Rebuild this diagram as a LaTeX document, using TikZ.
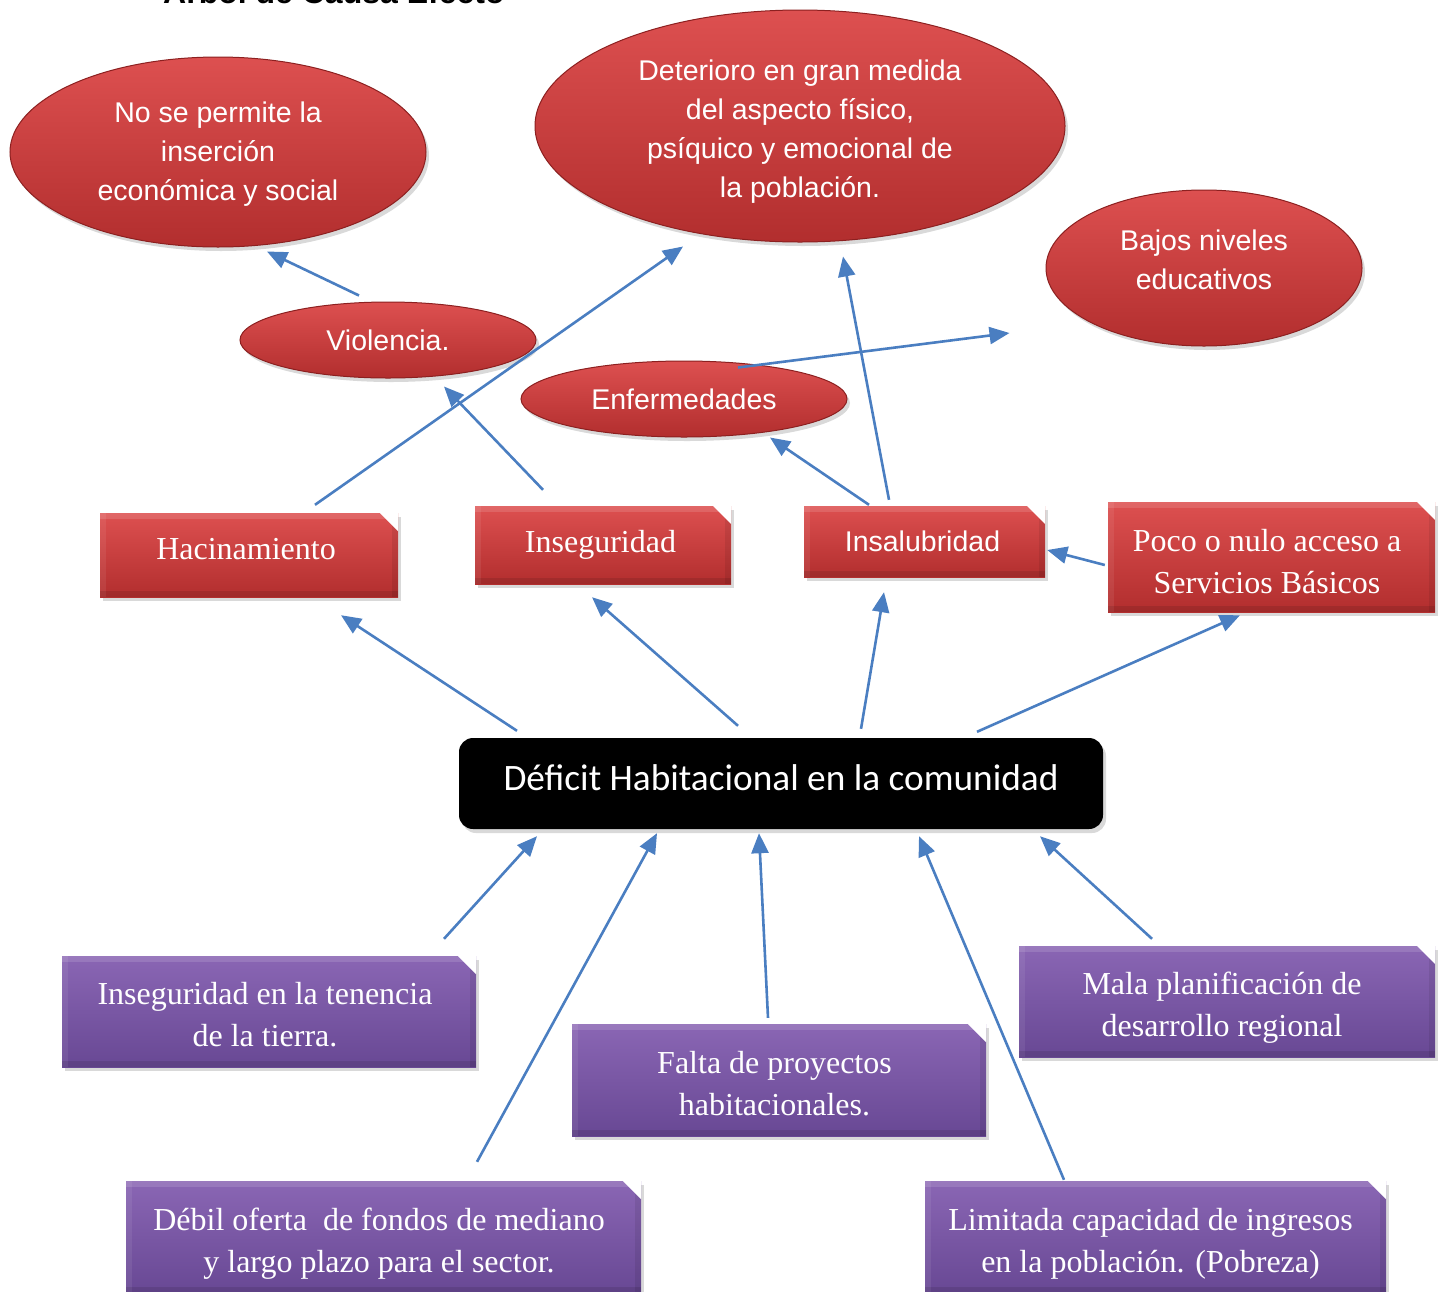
\documentclass[tikz,border=0pt]{standalone}
\usepackage{fontspec}
\setmainfont{Liberation Serif}
\newfontfamily\sansarial{Liberation Sans}
\newfontfamily\sanscalibri{Carlito}
\usetikzlibrary{shapes.geometric,shadows,arrows.meta,calc}

\definecolor{flow}{RGB}{74,126,193}
\definecolor{redtop}{RGB}{221,80,80}
\definecolor{redbot}{RGB}{178,46,46}
\definecolor{redrim}{RGB}{140,32,32}
\definecolor{purtop}{RGB}{138,102,180}
\definecolor{purbot}{RGB}{104,72,148}

\begin{document}
\begin{tikzpicture}[x=1pt,y=-1pt,
  softshadow/.style={drop shadow={opacity=0.3,shadow xshift=3pt,shadow yshift=-4pt}},
  effect/.style={ellipse,inner sep=0pt,top color=redtop,bottom color=redbot,
    draw=redrim,line width=1pt,softshadow},
  effecttext/.style={inner sep=0pt,text=white,align=center,
    font=\sansarial\fontsize{28.5}{39}\selectfont},
  % bevelled box: light top/left edges, dark bottom/right edges, cut corner
  bevelbox/.style={rectangle,inner sep=0pt,softshadow,
    path picture={
      \fill[white,opacity=0.13] (path picture bounding box.north west)
        rectangle ([yshift=-6pt]path picture bounding box.north east);
      \fill[white,opacity=0.07] (path picture bounding box.north west)
        rectangle ([xshift=6pt]path picture bounding box.south west);
      \fill[black,opacity=0.10] (path picture bounding box.south west)
        rectangle ([yshift=6pt]path picture bounding box.south east);
      \fill[black,opacity=0.08] ([xshift=-6pt]path picture bounding box.north east)
        rectangle (path picture bounding box.south east);
      \fill[white] (path picture bounding box.north east)
        -- ([xshift=-18pt]path picture bounding box.north east)
        -- ([yshift=-18pt]path picture bounding box.north east) -- cycle;
    }},
  redbox/.style={bevelbox,top color=redtop,bottom color=redbot},
  causebox/.style={bevelbox,top color=purtop,bottom color=purbot},
  boxtext/.style={inner sep=0pt,text=white,align=center,
    font=\fontsize{32}{42}\selectfont},
  problem/.style={rectangle,rounded corners=14pt,fill=black,
    inner sep=0pt,softshadow},
  problemtext/.style={inner sep=0pt,text=white,
    font=\sanscalibri\fontsize{37.3}{44}\selectfont},
  arr/.style={draw=flow,line width=2.6pt,
    -{Triangle[length=20pt,width=17pt]}}]

\useasboundingbox (0,0) rectangle (1442,1291);

% heading
\node[anchor=base west,inner sep=0pt,font=\sansarial\bfseries\fontsize{32}{36}\selectfont]
  (title) at (163,3) {Árbol de Causa Efecto};

% effects
\node[effect,minimum width=416pt,minimum height=190pt] (nosp) at (218,152) {};
\node[effecttext] (nosp-t) at ($(nosp)+(0,2)$)
  {No se permite la\\inserción\\económica y social};
\node[effect,minimum width=530pt,minimum height=232pt] (det) at (800,126) {};
\node[effecttext] (det-t) at ($(det)+(0,6)$)
  {Deterioro en gran medida\\del aspecto físico,\\psíquico y emocional de\\la población.};
\node[effect,minimum width=316pt,minimum height=156pt] (bajos) at (1204,268) {};
\node[effecttext] (bajos-t) at ($(bajos)+(0,-8.5)$) {Bajos niveles\\educativos};
\node[effect,minimum width=296pt,minimum height=76pt] (viol) at (388,340) {};
\node[effecttext] (viol-t) at (viol) {Violencia.};
\node[effect,minimum width=326pt,minimum height=76pt] (enf) at (684,399) {};
\node[effecttext] (enf-t) at (enf) {Enfermedades};

% direct consequences
\node[redbox,minimum width=298pt,minimum height=84pt] (hac) at (249,555) {};
\node[boxtext] (hac-t) at ($(hac)+(-3,-6)$) {Hacinamiento};
\node[redbox,minimum width=256pt,minimum height=78pt] (inse) at (603,545) {};
\node[boxtext] (inse-t) at ($(inse)+(-2.5,0)$) {Inseguridad};
\node[redbox,minimum width=241pt,minimum height=71pt] (insa) at (924.5,541.5) {};
\node[effecttext] (insa-t) at ($(insa)+(-2,0)$) {Insalubridad};
\node[redbox,minimum width=327pt,minimum height=110pt] (poco) at (1271.5,557) {};
\node[boxtext] (poco-t) at ($(poco)+(-4.5,5)$) {Poco o nulo acceso a\\Servicios Básicos};

% central problem
\node[problem,minimum width=644pt,minimum height=91pt] (black) at (781,783.5) {};
\node[problemtext] (black-t) at ($(black)+(0,-6)$) {Déficit Habitacional en la comunidad};

% causes
\node[causebox,minimum width=414pt,minimum height=111pt] (ten) at (269,1011.5) {};
\node[boxtext] (ten-t) at ($(ten)+(-4,3)$) {Inseguridad en la tenencia\\de la tierra.};
\node[causebox,minimum width=414pt,minimum height=112pt] (falta) at (779,1080) {};
\node[boxtext] (falta-t) at ($(falta)+(-4.5,4)$) {Falta de proyectos\\habitacionales.};
\node[causebox,minimum width=416pt,minimum height=111pt] (mala) at (1227,1001.5) {};
\node[boxtext] (mala-t) at ($(mala)+(-5,6)$) {Mala planificación de\\desarrollo regional};
\node[causebox,minimum width=515pt,minimum height=112pt] (debil) at (383.5,1237) {};
\node[boxtext] (debil-t) at ($(debil)+(-4.5,7)$)
  {Débil oferta\ \ de fondos de mediano\\y largo plazo para el sector.};
\node[causebox,minimum width=461pt,minimum height=112pt] (lim) at (1155.5,1237) {};
\node[boxtext] (lim-t) at ($(lim)+(-5,7)$)
  {Limitada capacidad de ingresos\\en la población. (Pobreza)};

% problem -> consequences
\draw[arr] ($(black.north)+(-264,-7)$) -- ($(hac.south)+(92,18)$);
\draw[arr] ($(black.north)+(-43,-12)$) -- ($(inse.south)+(-11,13)$);
\draw[arr] ($(black.north)+(80,-9)$) -- ($(insa.south)+(-40.5,15)$);
\draw[arr] ($(black.north)+(196,-6)$) -- ($(poco.south)+(-31.5,3)$);
\draw[arr] ($(poco.west)+(-3,8)$) -- ($(insa.east)+(2,8.5)$);

% consequences -> effects
\draw[arr] ($(hac.north)+(66,-8)$) -- ($(det.south)+(-117,4)$);
\draw[arr] ($(inse.north)+(-60,-16)$) -- ($(viol.south)+(56,8)$);
\draw[arr] ($(viol.north)+(-29,-6)$) -- ($(nosp.south)+(49,4)$);
\draw[arr] ($(insa.north)+(-55.5,-1)$) -- ($(enf.south)+(86,0)$);
\draw[arr] ($(insa.north)+(-35.5,-6)$) -- ($(det.south)+(43,14)$);
\draw[arr] ($(enf.north)+(54,7)$) -- ($(bajos.west)+(-36,65)$);

% causes -> problem
\draw[arr] ($(ten.north)+(175,-17)$) -- ($(black.south)+(-244,7)$);
\draw[arr] ($(debil.north)+(93.5,-19)$) -- ($(black.south)+(-124,4)$);
\draw[arr] ($(falta.north)+(-11,-6)$) -- ($(black.south)+(-22,4)$);
\draw[arr] ($(lim.north)+(-91.5,-1)$) -- ($(black.south)+(138,7)$);
\draw[arr] ($(mala.north)+(-75,-7)$) -- ($(black.south)+(259,7)$);
\end{tikzpicture}
\end{document}
